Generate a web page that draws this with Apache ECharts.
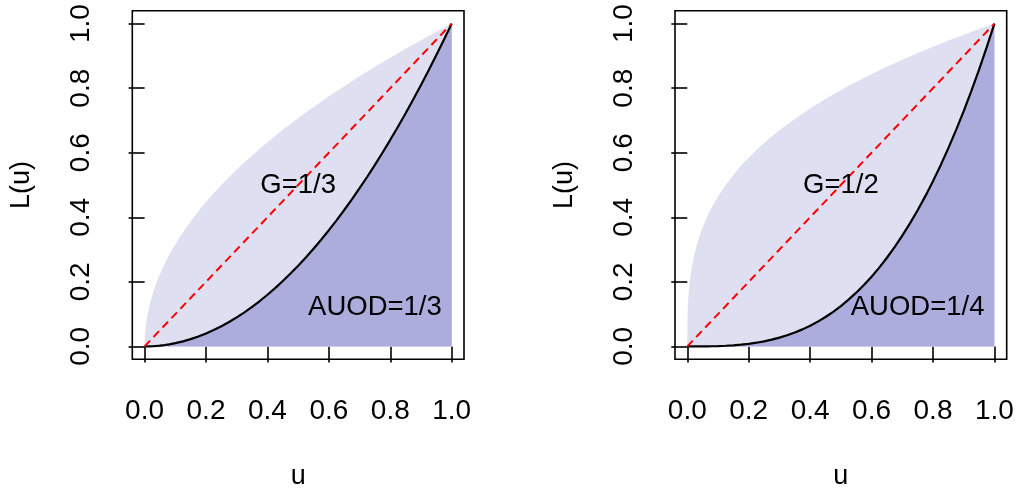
<!DOCTYPE html>
<html>
<head>
<meta charset="utf-8">
<script src="https://cdn.jsdelivr.net/npm/echarts@6/dist/echarts.min.js"></script>
<style>
  html, body { margin: 0; padding: 0; background: #ffffff; }
  #chart { width: 1019px; height: 491px; }
</style>
</head>
<body>
<div id="chart"></div>
<script>
// Population share u (sampled more densely near 0, where the upper curves rise steeply)
const uValues = [0, 0.001, 0.002, 0.004, 0.007, 0.01, 0.015, 0.02, 0.03, 0.04, 0.05, 0.065, 0.08, 0.1,
  0.125, 0.15, 0.175, 0.2, 0.225, 0.25, 0.275, 0.3, 0.325, 0.35, 0.375, 0.4, 0.425, 0.45, 0.475, 0.5,
  0.525, 0.55, 0.575, 0.6, 0.625, 0.65, 0.675, 0.7, 0.725, 0.75, 0.775, 0.8, 0.825, 0.85, 0.875, 0.9,
  0.925, 0.95, 0.975, 1];

// Left panel: Lorenz curve and its mirror image about the diagonal
const lorenzLeft = [0, 0, 0, 0, 0, 0.0001, 0.0002, 0.0004, 0.0009, 0.0016, 0.0025, 0.0042, 0.0064, 0.01,
  0.0156, 0.0225, 0.0306, 0.04, 0.0506, 0.0625, 0.0756, 0.09, 0.1056, 0.1225, 0.1406, 0.16, 0.1806, 0.2025, 0.2256, 0.25,
  0.2756, 0.3025, 0.3306, 0.36, 0.3906, 0.4225, 0.4556, 0.49, 0.5256, 0.5625, 0.6006, 0.64, 0.6806, 0.7225, 0.7656, 0.81,
  0.8556, 0.9025, 0.9506, 1];
const mirrorLeft = [0, 0.0316, 0.0447, 0.0632, 0.0837, 0.1, 0.1225, 0.1414, 0.1732, 0.2, 0.2236, 0.255, 0.2828, 0.3162,
  0.3536, 0.3873, 0.4183, 0.4472, 0.4743, 0.5, 0.5244, 0.5477, 0.5701, 0.5916, 0.6124, 0.6325, 0.6519, 0.6708, 0.6892, 0.7071,
  0.7246, 0.7416, 0.7583, 0.7746, 0.7906, 0.8062, 0.8216, 0.8367, 0.8515, 0.866, 0.8803, 0.8944, 0.9083, 0.922, 0.9354, 0.9487,
  0.9618, 0.9747, 0.9874, 1];

// Right panel: Lorenz curve and its mirror image about the diagonal
const lorenzRight = [0, 0, 0, 0, 0, 0, 0, 0, 0, 0.0001, 0.0001, 0.0003, 0.0005, 0.001,
  0.002, 0.0034, 0.0054, 0.008, 0.0114, 0.0156, 0.0208, 0.027, 0.0343, 0.0429, 0.0527, 0.064, 0.0768, 0.0911, 0.1072, 0.125,
  0.1447, 0.1664, 0.1901, 0.216, 0.2441, 0.2746, 0.3075, 0.343, 0.3811, 0.4219, 0.4655, 0.512, 0.5615, 0.6141, 0.6699, 0.729,
  0.7915, 0.8574, 0.9269, 1];
const mirrorRight = [0, 0.1, 0.126, 0.1587, 0.1913, 0.2154, 0.2466, 0.2714, 0.3107, 0.342, 0.3684, 0.4021, 0.4309, 0.4642,
  0.5, 0.5313, 0.5593, 0.5848, 0.6082, 0.63, 0.6503, 0.6694, 0.6875, 0.7047, 0.7211, 0.7368, 0.7518, 0.7663, 0.7802, 0.7937,
  0.8067, 0.8193, 0.8315, 0.8434, 0.855, 0.8662, 0.8772, 0.8879, 0.8984, 0.9086, 0.9185, 0.9283, 0.9379, 0.9473, 0.9565, 0.9655,
  0.9743, 0.983, 0.9916, 1];

// Line of equality
const equalityU = [0, 1];
const equalityL = [0, 1];

// Axis ticks
const tickValues = [0, 0.2, 0.4, 0.6, 0.8, 1.0];

// Annotations: [u, L(u), text]
const notesLeft = [[0.5, 0.5, 'G=1/3'], [0.75, 0.12, 'AUOD=1/3']];
const notesRight = [[0.5, 0.5, 'G=1/2'], [0.75, 0.12, 'AUOD=1/4']];

const FONT = '"Liberation Sans", Arial, Helvetica, sans-serif';
const LIGHT = '#dedff0';
const DARK = '#acacdd';

const pairs = (xs, ys) => xs.map((x, i) => [x, ys[i]]);

function xAxisFor(gridIndex) {
  return {
    gridIndex, type: 'value', min: -0.04, max: 1.04,
    name: 'u', nameLocation: 'middle', nameGap: 104,
    nameTextStyle: { fontFamily: FONT, fontSize: 27, color: '#000' },
    splitLine: { show: false },
    axisLine: { show: false },
    axisTick: { show: true, customValues: tickValues, length: 16, lineStyle: { color: '#000', width: 1.6 } },
    axisLabel: { customValues: tickValues, margin: 38, fontFamily: FONT, fontSize: 28, color: '#000',
      formatter: v => v.toFixed(1) }
  };
}
function yAxisFor(gridIndex) {
  return {
    gridIndex, type: 'value', min: -0.04, max: 1.04,
    name: 'L(u)', nameLocation: 'middle', nameGap: 97, nameRotate: 90,
    nameTextStyle: { fontFamily: FONT, fontSize: 27, color: '#000' },
    splitLine: { show: false },
    axisLine: { show: false },
    axisTick: { show: true, customValues: tickValues, length: 16, lineStyle: { color: '#000', width: 1.6 } },
    axisLabel: { customValues: tickValues, rotate: 90, margin: 37, fontFamily: FONT, fontSize: 28, color: '#000',
      formatter: v => v.toFixed(1) }
  };
}

function panelSeries(idx, lorenz, mirror, notes) {
  return [
    {
      type: 'line', xAxisIndex: idx, yAxisIndex: idx, data: pairs(uValues, mirror),
      showSymbol: false, lineStyle: { width: 0, opacity: 0 },
      areaStyle: { color: LIGHT, opacity: 1 }, z: 1, silent: true
    },
    {
      type: 'line', xAxisIndex: idx, yAxisIndex: idx, data: pairs(uValues, lorenz),
      showSymbol: false, lineStyle: { width: 2.2, color: '#000' },
      areaStyle: { color: DARK, opacity: 1 }, z: 2, silent: true
    },
    {
      type: 'line', xAxisIndex: idx, yAxisIndex: idx, data: pairs(equalityU, equalityL),
      showSymbol: false, lineStyle: { width: 2, color: '#ff0000', type: [8, 5] }, z: 3, silent: true
    },
    {
      type: 'scatter', xAxisIndex: idx, yAxisIndex: idx, symbolSize: 1, z: 4, silent: true,
      itemStyle: { opacity: 1, color: 'rgba(0,0,0,0)' },
      data: notes.map(n => ({ value: [n[0], n[1]], name: n[2] })),
      label: { show: true, position: 'inside', formatter: p => p.name, opacity: 1,
        fontFamily: FONT, fontSize: 27.5, color: '#000', textBorderWidth: 0 }
    }
  ];
}

const gridBase = { top: 10.7, width: 331.7, height: 348.6, show: true, borderColor: '#000', borderWidth: 1.6,
  backgroundColor: 'transparent', containLabel: false, outerBoundsMode: 'none' };

const chart = echarts.init(document.getElementById('chart'), null, { renderer: 'canvas' });
chart.setOption({
  animation: false,
  backgroundColor: '#ffffff',
  grid: [
    Object.assign({ left: 132.3 }, gridBase),
    Object.assign({ left: 675 }, gridBase)
  ],
  xAxis: [xAxisFor(0), xAxisFor(1)],
  yAxis: [yAxisFor(0), yAxisFor(1)],
  series: [
    ...panelSeries(0, lorenzLeft, mirrorLeft, notesLeft),
    ...panelSeries(1, lorenzRight, mirrorRight, notesRight)
  ]
});
</script>
</body>
</html>
